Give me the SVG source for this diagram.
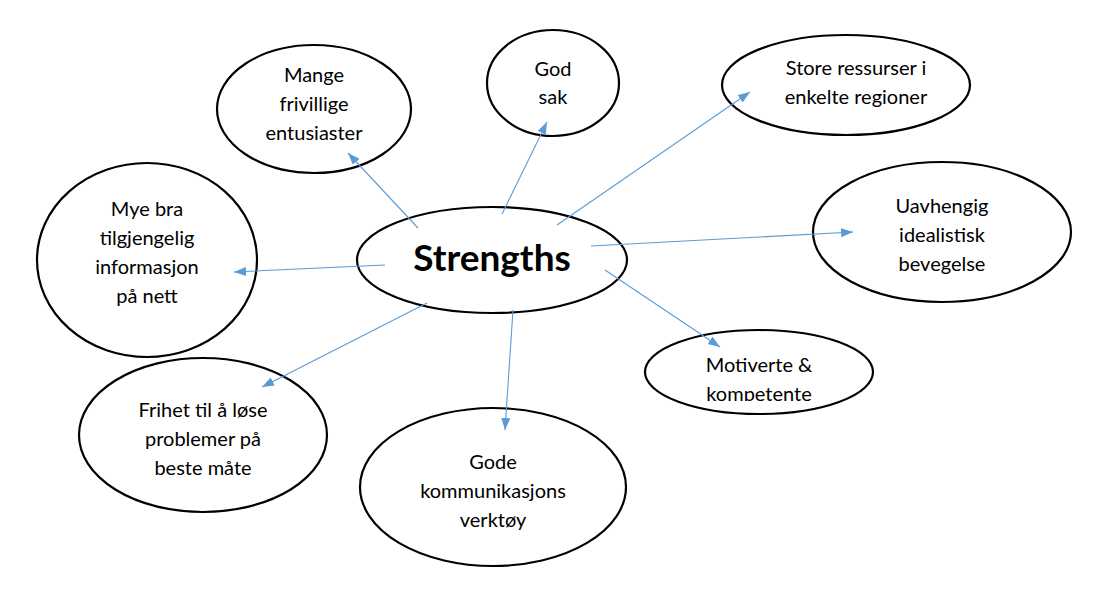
<svg xmlns="http://www.w3.org/2000/svg" width="1104" height="601" viewBox="0 0 1104 601">
<style>
.n{fill:#fff;stroke:#000;stroke-width:2.2}
.t{font-family:Lato,"Open Sans","Liberation Sans",sans-serif;font-size:20px;fill:#000;text-anchor:middle}
.c{stroke:#5B9BD5;stroke-width:1.1;fill:none;marker-end:url(#ah)}
</style>
<defs>
<marker id="ah" markerUnits="userSpaceOnUse" markerWidth="13" markerHeight="10" refX="12" refY="4.5" orient="auto">
<path d="M0,0 L12,4.5 L0,9 z" fill="#5B9BD5"/>
</marker>
<clipPath id="mclip"><rect x="600" y="320" width="300" height="81"/></clipPath>
</defs>
<rect width="1104" height="601" fill="#fff"/>
<g id="n-strengths"><ellipse class="n" cx="492" cy="260" rx="135" ry="53"/><text x="492" y="271" font-family="Lato,'Open Sans','Liberation Sans',sans-serif" font-size="37" font-weight="bold" text-anchor="middle">Strengths</text></g>
<g id="n-mange"><ellipse class="n" cx="314" cy="109" rx="97" ry="64"/><text class="t" x="314" y="82">Mange</text><text class="t" x="314" y="111">frivillige</text><text class="t" x="314" y="140">entusiaster</text></g>
<g id="n-god"><ellipse class="n" cx="553" cy="83" rx="66" ry="53"/><text class="t" x="553" y="76">God</text><text class="t" x="553" y="104">sak</text></g>
<g id="n-store"><ellipse class="n" cx="846" cy="85" rx="124" ry="50"/><text class="t" x="856" y="75">Store ressurser i</text><text class="t" x="856" y="104">enkelte regioner</text></g>
<g id="n-uavhengig"><ellipse class="n" cx="942" cy="232" rx="129" ry="70"/><text class="t" x="942" y="213">Uavhengig</text><text class="t" x="942" y="242">idealistisk</text><text class="t" x="942" y="271">bevegelse</text></g>
<g id="n-mye"><ellipse class="n" cx="147" cy="260" rx="110" ry="97"/><text class="t" x="147" y="216">Mye bra</text><text class="t" x="147" y="245">tilgjengelig</text><text class="t" x="147" y="274">informasjon</text><text class="t" x="147" y="303">på nett</text></g>
<g id="n-motiverte"><ellipse class="n" cx="759" cy="372" rx="114" ry="42"/><g clip-path="url(#mclip)"><text class="t" x="759" y="372">Motiverte &amp;</text><text class="t" x="759" y="401">kompetente</text></g></g>
<g id="n-frihet"><ellipse class="n" cx="203" cy="435" rx="124" ry="77"/><text class="t" x="203" y="417">Frihet til å løse</text><text class="t" x="203" y="446">problemer på</text><text class="t" x="203" y="475">beste måte</text></g>
<g id="n-gode"><ellipse class="n" cx="493" cy="487" rx="133" ry="79"/><text class="t" x="493" y="469">Gode</text><text class="t" x="493" y="498">kommunikasjons</text><text class="t" x="493" y="527">verktøy</text></g>
<g id="connectors">
<line class="c" x1="418" y1="228" x2="348" y2="153"/>
<line class="c" x1="502" y1="214" x2="547" y2="122"/>
<line class="c" x1="557" y1="225" x2="750" y2="92"/>
<line class="c" x1="591" y1="246" x2="853" y2="232"/>
<line class="c" x1="385" y1="265" x2="234" y2="272"/>
<line class="c" x1="427" y1="303" x2="262" y2="387"/>
<line class="c" x1="513" y1="310" x2="505" y2="430"/>
<line class="c" x1="605" y1="270" x2="720" y2="347"/>
</g>
</svg>
